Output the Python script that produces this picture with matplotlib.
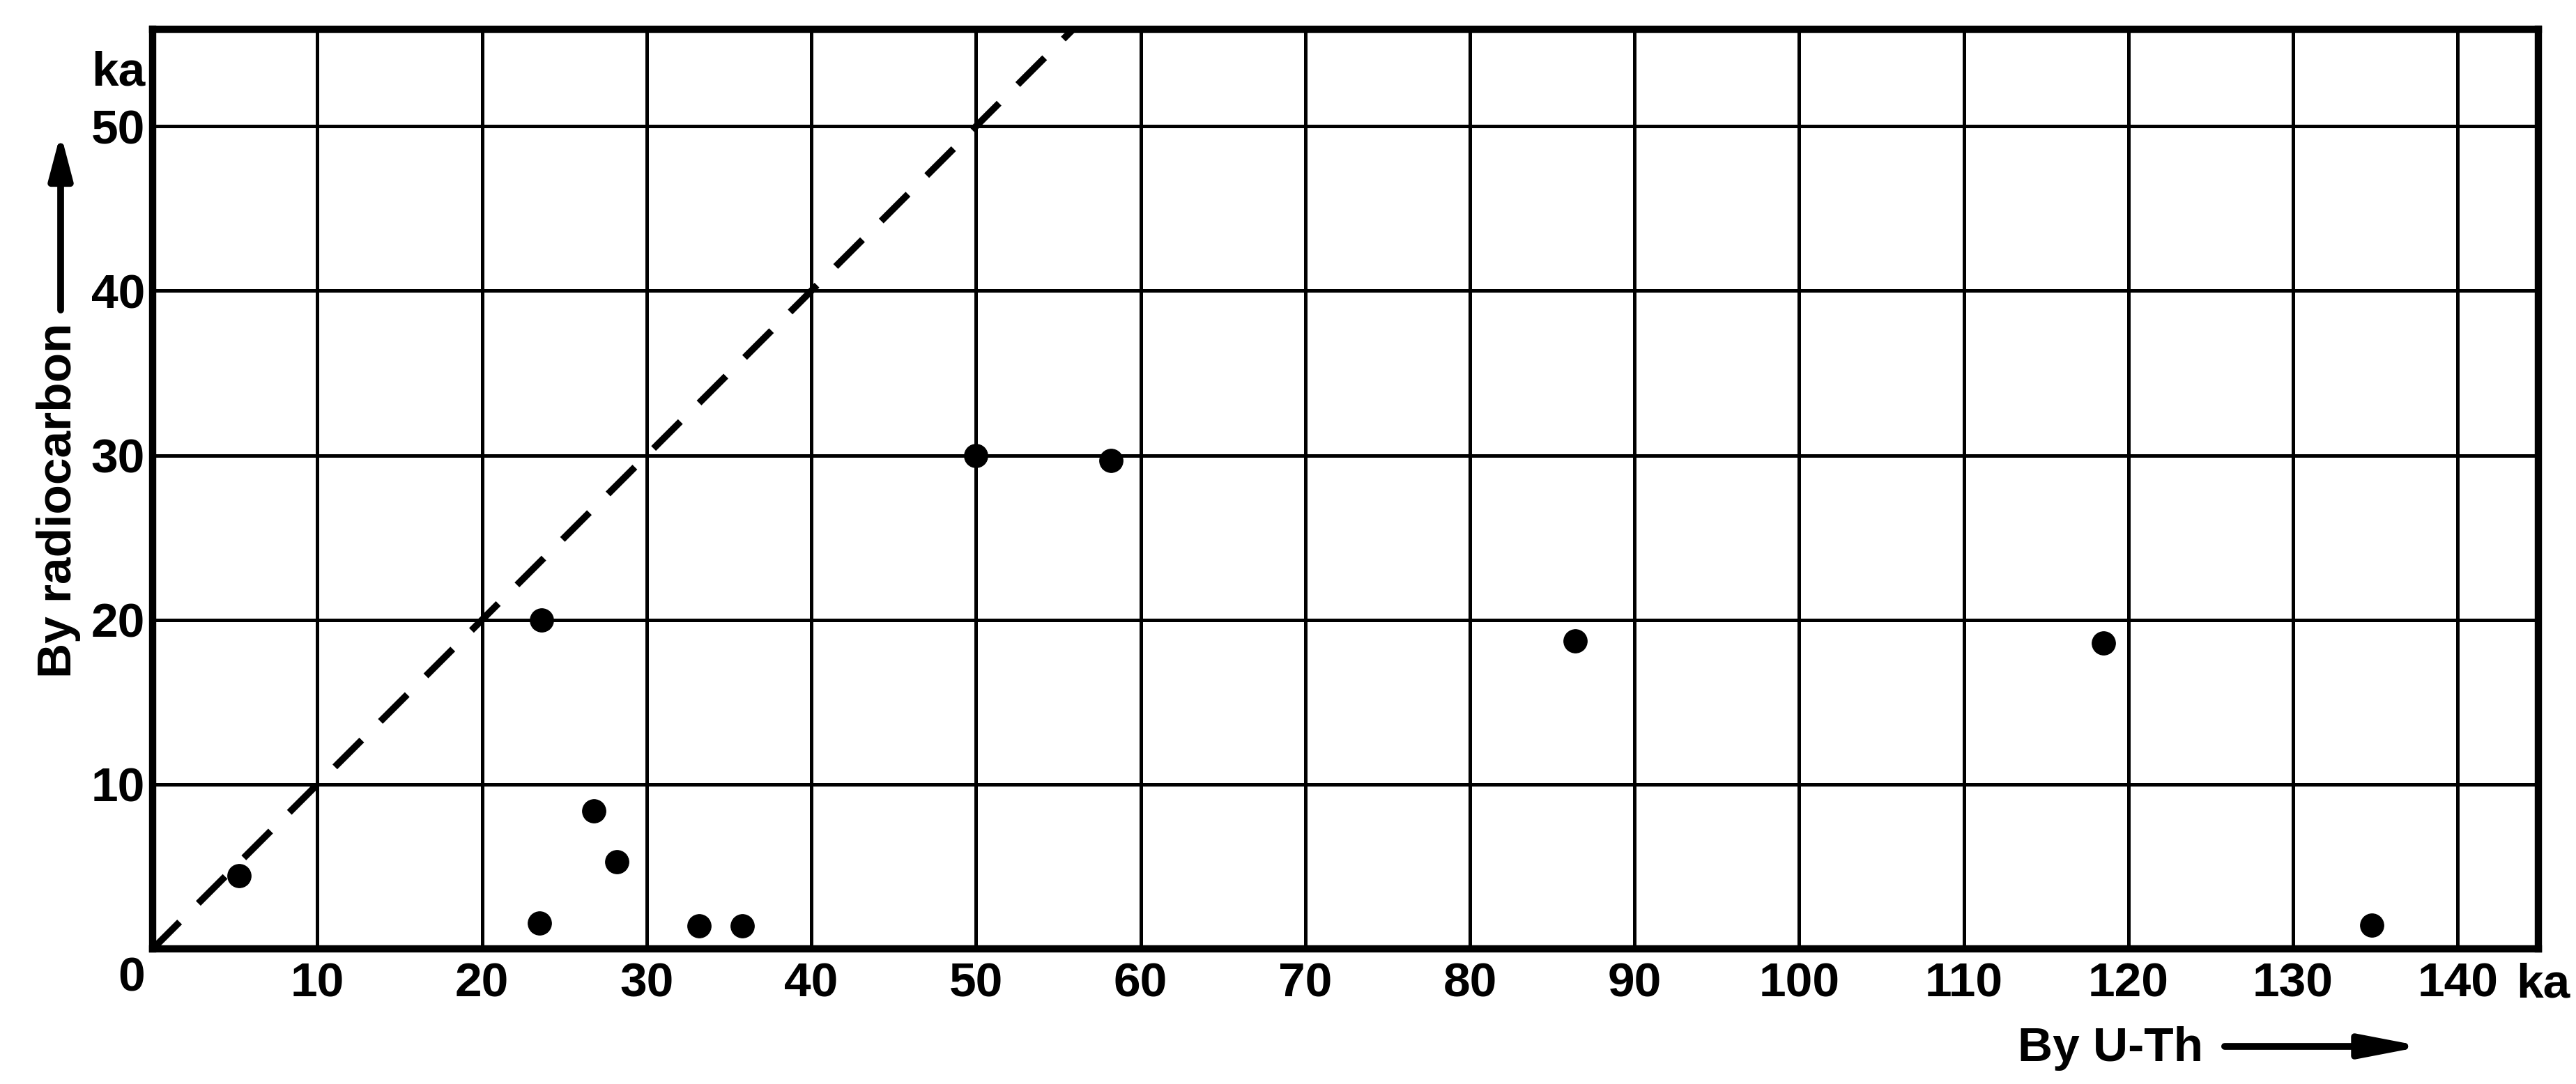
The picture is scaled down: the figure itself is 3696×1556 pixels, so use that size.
import matplotlib
matplotlib.use("Agg")
import matplotlib.pyplot as plt

plt.rcParams['font.family'] = ['Liberation Sans', 'DejaVu Sans']
plt.rcParams['font.weight'] = 'bold'

# ages of the same samples, ka
uth_age = [5.25, 23.6, 23.5, 26.8, 28.2, 33.2, 35.8, 50.0, 58.2, 86.4, 118.5, 134.8]
c14_age = [4.45, 20.0, 1.55, 8.4, 5.3, 1.4, 1.4, 30.0, 29.7, 18.7, 18.6, 1.45]

x_ticks = list(range(10, 150, 10))
y_ticks = [10, 20, 30, 40, 50]
x_max = 144.9
y_max = 55.9

fig = plt.figure(figsize=(36.96, 15.56), dpi=100)
ax = fig.add_axes([0.0593, 0.1247, 0.9261, 0.8483])
ax.set_xlim(0, x_max)
ax.set_ylim(0, y_max)

ax.set_xticks(x_ticks)
ax.set_yticks(y_ticks)
ax.set_xticklabels([str(t) for t in x_ticks])
ax.set_yticklabels([str(t) for t in y_ticks])
ax.tick_params(axis='both', length=0, labelsize=50)
ax.tick_params(axis='x', pad=13)
ax.tick_params(axis='y', pad=8)
ax.grid(True, color='black', linewidth=3.6)
ax.set_axisbelow(True)
for s in ax.spines.values():
    s.set_linewidth(7.5)
    s.set_color('black')

# 1:1 line
lim = min(x_max, y_max)
ax.plot([0, lim], [0, lim], color='black', linewidth=7, linestyle=(0, (5.6, 3.9)), zorder=3)

ax.plot(uth_age, c14_age, 'o', color='black', markersize=24, zorder=4)

# corner labels
fig.text(0.0509, 0.0855, '0', fontsize=50, ha='center', va='baseline')
fig.text(0.9767, 0.0797, 'ka', fontsize=50, ha='left', va='baseline')
fig.text(0.0563, 0.921, 'ka', fontsize=50, ha='right', va='baseline')

# axis titles with arrows
fig.text(0.8553, 0.0212, 'By U-Th', fontsize=50, ha='right', va='baseline')
fig.text(0.0227, 0.5386, 'By radiocarbon', fontsize=50, rotation=90,
         ha='center', va='center')

arrow = dict(arrowstyle='-|>,head_length=2.6,head_width=0.5', color='black',
             lw=7, shrinkA=0, shrinkB=0, mutation_scale=20, capstyle='round')
ax.annotate('', xy=(0.9405, 0.0347), xytext=(0.8636, 0.0347),
            xycoords='figure fraction', textcoords='figure fraction', arrowprops=arrow)
arrow_y = dict(arrow, arrowstyle='-|>,head_length=1.9,head_width=0.5')
ax.annotate('', xy=(0.02354, 0.877), xytext=(0.02354, 0.714),
            xycoords='figure fraction', textcoords='figure fraction', arrowprops=arrow_y)

fig.savefig('out.png', dpi=100)
